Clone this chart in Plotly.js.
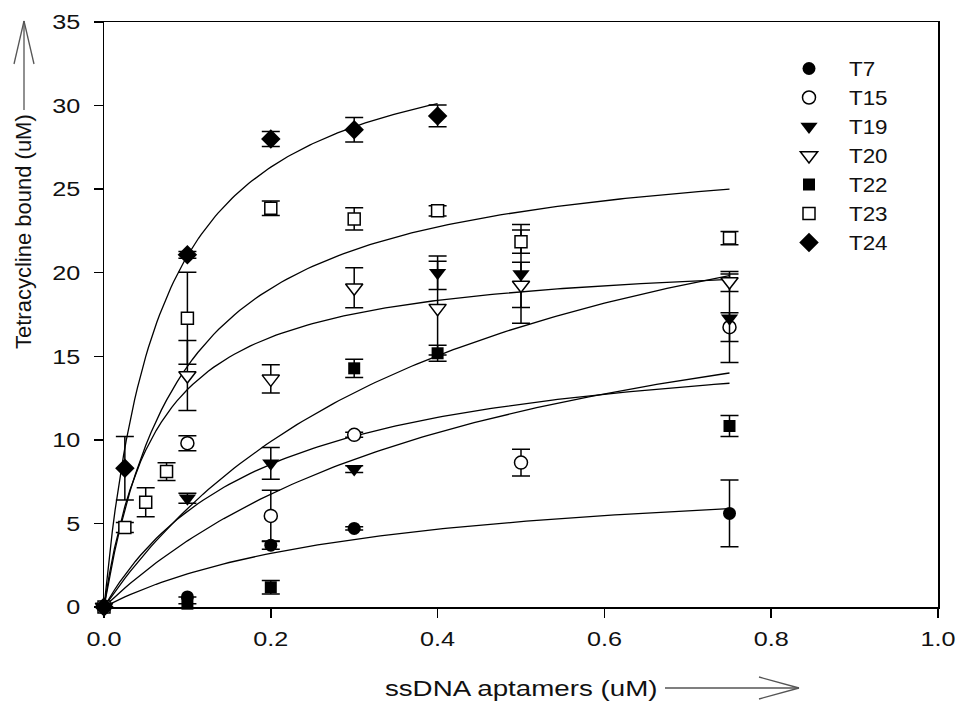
<!DOCTYPE html>
<html>
<head>
<meta charset="utf-8">
<script src="https://cdn.plot.ly/plotly-3.0.1.min.js"></script>
<style>html,body{margin:0;padding:0;background:#fff}#chart{width:957px;height:703px}</style>
</head>
<body>
<div id="chart"></div>
<script>
// ---- data ----
const seriesNames = ["T7", "T15", "T19", "T20", "T22", "T23", "T24"];

const xT7  = [0, 0.1, 0.2, 0.3, 0.75];
const yT7  = [0, 0.6, 3.7, 4.7, 5.6];
const eT7  = [null, null, 0.25, 0.1, 2.0];

const xT15 = [0, 0.1, 0.2, 0.3, 0.5, 0.75];
const yT15 = [0, 9.8, 5.45, 10.3, 8.64, 16.74];
const eT15 = [null, 0.45, 1.53, 0.15, 0.8, 0.86];

const xT19 = [0, 0.1, 0.2, 0.3, 0.4, 0.5, 0.75];
const yT19 = [0, 6.5, 8.6, 8.25, 20.0, 19.93, 17.28];
const eT19 = [null, 0.3, 0.95, 0.2, 1.0, 2.95, 2.65];

const xT20 = [0, 0.1, 0.2, 0.3, 0.4, 0.5, 0.75];
const yT20 = [0, 13.85, 13.65, 19.1, 17.88, 19.27, 19.47];
const eT20 = [null, 2.1, 0.85, 1.2, 2.8, 1.35, 0.6];

const xT22 = [0, 0.1, 0.2, 0.3, 0.4, 0.75];
const yT22 = [0, 0.2, 1.18, 14.28, 15.18, 10.83];
const eT22 = [null, null, 0.4, 0.55, 0.48, 0.63];

const xT23 = [0, 0.025, 0.05, 0.075, 0.1, 0.2, 0.3, 0.4, 0.5, 0.75];
const yT23 = [0, 4.76, 6.27, 8.1, 17.28, 23.86, 23.22, 23.7, 21.86, 22.07];
const eT23 = [null, 0.3, 0.87, 0.53, 2.75, 0.43, 0.67, 0.3, 0.7, 0.4];

const xT24 = [0, 0.025, 0.1, 0.2, 0.3, 0.4];
const yT24 = [0, 8.3, 21.07, 28.0, 28.55, 29.38];
const eT24 = [null, 1.9, 0.2, 0.45, 0.73, 0.65];

// fitted single-site binding curves  y = Bmax*x/(Kd+x), parameters estimated from the drawn curves
const fitBmax = [8.43, 16.86, 31.2, 21.25, 22.96, 28.19, 35.2];
const fitKd   = [0.325, 0.1946, 0.43, 0.0633, 0.48, 0.0958, 0.0675];
const fitXmax = [0.75, 0.75, 0.75, 0.75, 0.75, 0.75, 0.4];

const xTickVals = [0, 0.2, 0.4, 0.6, 0.8, 1.0];
const yTickVals = [0, 5, 10, 15, 20, 25, 30, 35];

const xs = [xT7, xT15, xT19, xT20, xT22, xT23, xT24];
const ys = [yT7, yT15, yT19, yT20, yT22, yT23, yT24];
const es = [eT7, eT15, eT19, eT20, eT22, eT23, eT24];

// ---- styles ----
const symbols = ["circle", "circle", "triangle-down", "triangle-down", "square", "square", "diamond"];
const fills   = ["black", "white", "black", "white", "black", "white", "black"];
const sizes   = [13, 13, 15, 15, 12, 12, 15];

const traces = [];
for (let i = 0; i < seriesNames.length; i++) {
  const cx = [], cy = [];
  const n = 120;
  for (let k = 0; k <= n; k++) {
    const x = fitXmax[i] * k / n;
    cx.push(x);
    cy.push(fitBmax[i] * x / (fitKd[i] + x));
  }
  traces.push({
    x: cx, y: cy, type: "scatter", mode: "lines",
    line: {color: "black", width: 1.3},
    showlegend: false, hoverinfo: "skip"
  });
}
for (let i = 0; i < seriesNames.length; i++) {
  traces.push({
    x: xs[i], y: ys[i], name: seriesNames[i], type: "scatter", mode: "markers",
    marker: {symbol: symbols[i], size: sizes[i], color: fills[i],
             line: {color: "black", width: fills[i] === "white" ? 1.5 : 0}},
    error_y: {type: "data", array: es[i], visible: true, color: "black", thickness: 1.5, width: 9},
    cliponaxis: false
  });
}

const L = 104, R = 19, T = 22, B = 96, W = 957, H = 703;
const pw = W - L - R, ph = H - T - B;
const px = v => (v - L) / pw;
const py = v => (H - B - v) / ph;
const arrowStyle = {color: "#555", width: 1.3};
function seg(x0, y0, x1, y1) {
  return {type: "line", xref: "paper", yref: "paper",
          x0: px(x0), y0: py(y0), x1: px(x1), y1: py(y1), line: arrowStyle};
}

const layout = {
  width: W, height: H,
  margin: {l: L, r: R, t: T, b: B},
  paper_bgcolor: "white", plot_bgcolor: "white",
  font: {family: "Liberation Sans, Arial, sans-serif", color: "#111"},
  showlegend: true,
  legend: {
    x: px(769), y: py(49), xanchor: "left", yanchor: "top",
    font: {size: 20, family: "Liberation Sans, Arial, sans-serif"},
    traceorder: "normal", bgcolor: "rgba(0,0,0,0)",
    itemwidth: 70
  },
  xaxis: {
    range: [0, 1.0], tickvals: xTickVals, tickformat: ".1f",
    showgrid: false, zeroline: false,
    showline: true, linecolor: "black", linewidth: 1.5, mirror: true,
    ticks: "outside", ticklen: 9, tickwidth: 1.5, tickcolor: "black",
    tickfont: {size: 21}, ticklabelstandoff: 3
  },
  yaxis: {
    range: [0, 35], tickvals: yTickVals,
    showgrid: false, zeroline: false,
    showline: true, linecolor: "black", linewidth: 1.5, mirror: true,
    ticks: "outside", ticklen: 9, tickwidth: 1.5, tickcolor: "black",
    tickfont: {size: 21}, ticklabelstandoff: 9
  },
  annotations: [
    {text: "Tetracycline bound (uM)", xref: "paper", yref: "paper",
     x: px(24), y: py(232), textangle: -90, showarrow: false,
     font: {size: 22}, xanchor: "center", yanchor: "middle"},
    {text: "ssDNA aptamers (uM)", xref: "paper", yref: "paper",
     x: px(521), y: py(688), showarrow: false,
     font: {size: 22}, xanchor: "center", yanchor: "middle"}
  ],
  shapes: [
    seg(24, 110, 24, 21), seg(24, 21, 14, 64), seg(24, 21, 34, 64),
    seg(665, 688, 799, 688), seg(799, 688, 759, 677), seg(799, 688, 759, 699)
  ]
};

// the reference lettering is horizontally widened; widen horizontal text about its anchor
function widen(selector, sx) {
  document.querySelectorAll(selector).forEach(t => {
    const x = parseFloat(t.getAttribute("x")) || 0;
    const prev = t.getAttribute("transform") || "";
    t.setAttribute("transform", prev + " translate(" + x + ",0) scale(" + sx + ",1) translate(" + (-x) + ",0)");
  });
}

Plotly.newPlot("chart", traces, layout, {displayModeBar: false, staticPlot: true}).then(() => {
  widen("#chart .xtick text", 1.2);
  widen("#chart .ytick text", 1.2);
  widen("#chart .legendtext", 1.12);
  widen('#chart .annotation[data-index="1"] .annotation-text', 1.26);
});
</script>
</body>
</html>
